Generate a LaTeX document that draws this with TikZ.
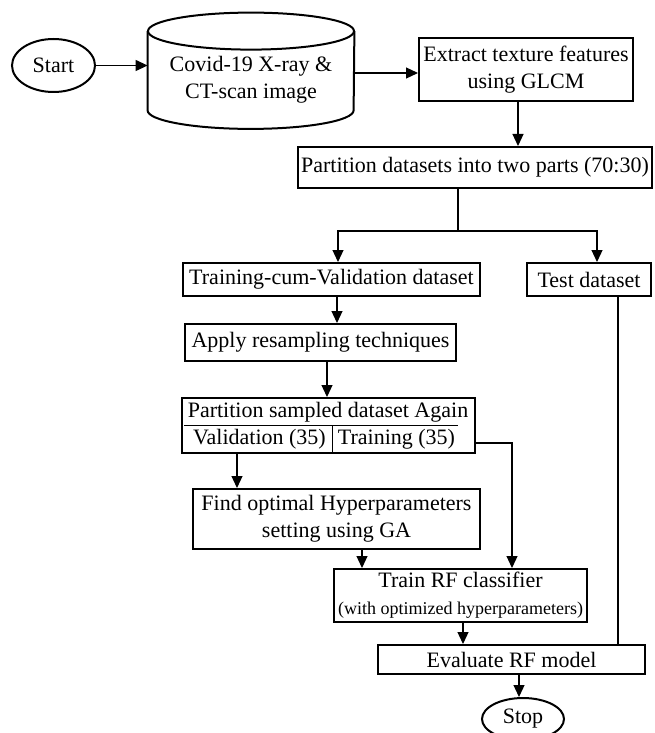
\documentclass[tikz,border=0pt]{standalone}
\usepackage{fontspec}
\setmainfont{Liberation Serif}
\usetikzlibrary{arrows.meta,shapes.geometric}

\tikzset{
	flowbox/.style={draw, line width=1pt, rectangle, inner sep=0pt, align=center, font=\fontsize{11}{13.5}\selectfont},
	oval/.style={draw, line width=1pt, ellipse, inner sep=0pt, font=\fontsize{11}{13.5}\selectfont},
	plain/.style={inner sep=0pt, align=center, font=\fontsize{11}{13.5}\selectfont},
	arr/.style={line width=0.6pt, -{Triangle[length=6pt,width=5.5pt]}},
	wire/.style={line width=0.6pt},
}

\begin{document}
\begin{tikzpicture}[x=0.5pt, y=-0.5pt]
			\useasboundingbox (0,0) rectangle (654,733);
			%%%%% START %%%%%
			
			\node[oval, minimum width=41.5pt, minimum height=26.5pt] (start) at (53.5,65.5) {Start};
			
			\node[plain, minimum width=103pt, minimum height=48.5pt] (data) at (251,80) {Covid-19 X-ray \&\\CT-scan image};
			\draw[line width=1pt] (data.north west) -- ([yshift=9.25pt]data.south west) arc[start angle=180, end angle=360, x radius=51.5pt, y radius=9.25pt] -- (data.north east);
			\draw[line width=1pt] (data.north) ellipse [x radius=51.5pt, y radius=9.25pt];
			
			\node[flowbox, minimum width=107pt, minimum height=31.5pt] (extract) at (526,69.5) {Extract texture features\\using GLCM};
			\node[flowbox, minimum width=177pt, minimum height=20.5pt] (part) at (475,167.5) {Partition datasets into two parts (70:30)};
			
			\draw[arr] (start.east) -- (start.east -| data.west);
			\draw[arr] ([yshift=-1.75pt]data.east |- extract.west) -- ([yshift=-1.75pt]extract.west);
			\draw[arr] ([xshift=-4pt]extract.south) -- ([xshift=-4pt]extract.south |- part.north);
			
			%% split into two parts
			\coordinate (fork) at (458,231);
			\node[flowbox, minimum width=148.5pt, minimum height=16.5pt] (tcv) at (331.5,279.5) {Training-cum-Validation dataset};
			\node[flowbox, minimum width=62pt, minimum height=16.5pt] (test) at (589,279.5) {Test dataset};
			\draw[wire] (fork |- part.south) -- (fork);
			\draw[arr] (fork) -| ([xshift=3.25pt]tcv.north);
			\draw[arr] (fork) -| ([xshift=4pt]test.north);
			
			\node[flowbox, minimum width=135.5pt, minimum height=18.5pt] (apply) at (320.5,342.5) {Apply resampling techniques};
			\draw[arr] ([xshift=2.75pt]tcv.south) -- ([xshift=2.75pt]tcv.south |- apply.north);
			
			%% sampled dataset box
			\node[flowbox, minimum width=146.5pt, minimum height=27.5pt] (psd) at (328.5,425.5) {};
			\node[plain] (psdtitle) at (328,412) {Partition sampled dataset Again};
			\node[plain] (val) at (259.5,439) {Validation (35)};
			\node[plain] (trn) at (396.5,439) {Training (35)};
			\draw[line width=0.5pt] ([xshift=1.5pt]psd.west) -- ([xshift=-9pt]psd.east);
			\draw[line width=0.5pt] ([xshift=1.75pt]psd.center) -- ([xshift=1.75pt]psd.south);
			\draw[arr] ([xshift=3.25pt]apply.south) -- ([xshift=3.25pt]apply.south |- psd.north);
			
			\node[flowbox, minimum width=143.5pt, minimum height=30pt] (find) at (336.5,519) {Find optimal Hyperparameters\\setting using GA};
			\draw[arr] ([xshift=-45.75pt]psd.south) -- ([xshift=-45.75pt]psd.south |- find.north);
			
			\node[flowbox, minimum width=126.5pt, minimum height=26.5pt] (train) at (460.5,595.5) {Train RF classifier\\{\fontsize{9}{10}\selectfont (with optimized hyperparameters)}};
			\draw[arr] ([xshift=12.75pt]find.south) -- ([xshift=12.75pt]find.south |- train.north);
			\draw[arr] ([yshift=-2pt]psd.east |- trn) -| ([xshift=25.75pt]train.north);
			
			\node[flowbox, minimum width=133.5pt, minimum height=14.5pt] (eval) at (511.5,659.5) {Evaluate RF model};
			\draw[arr] ([xshift=1.25pt]train.south) -- ([xshift=1.25pt]train.south |- eval.north);
			\draw[wire] ([xshift=14.5pt]test.south) -- ([xshift=14.5pt]test.south |- eval.north);
			
			\node[oval, minimum width=41pt, minimum height=21pt] (stop) at (523,719) {Stop};
			\draw[arr] ([xshift=3.75pt]eval.south) -- ([xshift=3.75pt]eval.south |- stop.north);
			
			%%%%% END %%%%%
\end{tikzpicture}
\end{document}
